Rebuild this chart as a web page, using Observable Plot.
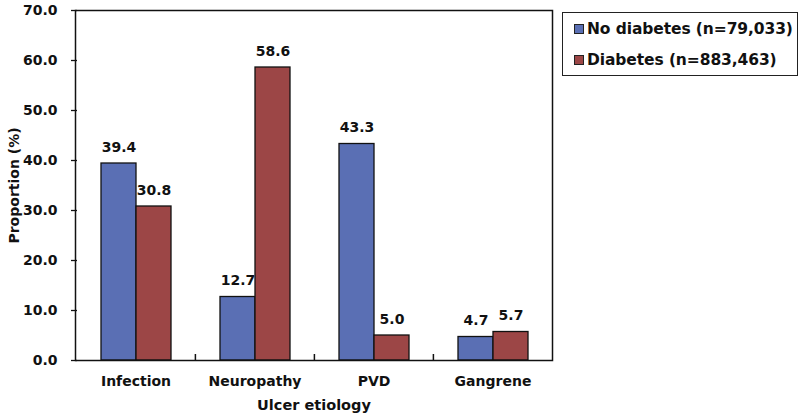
<!DOCTYPE html>
<html>
<head>
<meta charset="utf-8">
<script src="https://cdn.jsdelivr.net/npm/d3@7"></script>
<script src="https://cdn.jsdelivr.net/npm/@observablehq/plot@0.6"></script>
<style>
  body { margin: 0; background: #fff; }
  #wrap { position: relative; width: 800px; height: 418px; font-family: "DejaVu Sans", sans-serif; }
  #legend { position: absolute; left: 562px; top: 12px; width: 236px; height: 64px; border: 1.5px solid #222; box-sizing: border-box; font-weight: bold; font-size: 15.5px; color: #111; }
  .item { position: absolute; left: 11px; white-space: nowrap; letter-spacing: -0.1px; }
  .sw { display: inline-block; width: 8px; height: 8px; border: 1px solid #222; margin-right: 3px; vertical-align: 0px; }
</style>
</head>
<body>
<div id="wrap"></div>
<script>
const categories = ["Infection", "Neuropathy", "PVD", "Gangrene"];
const seriesNames = ["No diabetes (n=79,033)", "Diabetes (n=883,463)"];
const noDiabetes = [39.4, 12.7, 43.3, 4.7];
const diabetes = [30.8, 58.6, 5.0, 5.7];
const yTicks = [0, 10, 20, 30, 40, 50, 60, 70];
const colors = ["#5a6fb4", "#9c4646"];

const rowsA = categories.map((c, i) => ({cat: c, v: noDiabetes[i]}));
const rowsB = categories.map((c, i) => ({cat: c, v: diabetes[i]}));
const boundaries = categories.slice(1);

const font = "DejaVu Sans, sans-serif";
const plot = Plot.plot({
  width: 800,
  height: 418,
  marginLeft: 75,
  marginRight: 248,
  marginTop: 10,
  marginBottom: 58,
  style: {fontFamily: font, fontWeight: "bold", fontSize: "14px", color: "#111", background: "#fff"},
  x: {domain: categories, padding: 0, label: null},
  y: {domain: [0, 70], label: null},
  marks: [
    Plot.barY(rowsA, {x: "cat", y: "v", fill: colors[0], stroke: "#111", strokeWidth: 1.3, insetLeft: 25, insetRight: 59}),
    Plot.barY(rowsB, {x: "cat", y: "v", fill: colors[1], stroke: "#111", strokeWidth: 1.3, insetLeft: 60, insetRight: 24}),
    Plot.text(rowsA, {x: "cat", y: "v", text: d => d.v.toFixed(1), dx: -17, dy: -16, fontSize: 14, fontWeight: "bold", fill: "#111"}),
    Plot.text(rowsB, {x: "cat", y: "v", text: d => d.v.toFixed(1), dx: 18, dy: -16, fontSize: 14, fontWeight: "bold", fill: "#111"}),
    Plot.axisY({ticks: yTicks, tickFormat: d => d.toFixed(1), tickSize: -6, tickPadding: 20, dx: -4, fontSize: 14, strokeWidth: 1.3}),
    Plot.axisX({tickSize: 0, tickPadding: 16, fontSize: 14}),
    Plot.ruleX(boundaries, {x: d => d, dx: -59.6, y1: 0, y2: 1.2, stroke: "#111", strokeWidth: 1.5}),
    Plot.frame({stroke: "#111", strokeWidth: 1.5}),
    Plot.text(["Ulcer etiology"], {frameAnchor: "bottom", dy: 49, fontSize: 14.5, fontWeight: "bold", fill: "#111"}),
    Plot.text(["Proportion (%)"], {frameAnchor: "left", textAnchor: "middle", dx: -61, rotate: -90, fontSize: 14, fontWeight: "bold", fill: "#111"})
  ]
});
const wrap = document.getElementById("wrap");
wrap.appendChild(plot);
const lg = document.createElement("div");
lg.id = "legend";
seriesNames.forEach((n, i) => {
  const it = document.createElement("div");
  it.className = "item";
  it.style.top = (i === 0 ? 7 : 38) + "px";
  it.innerHTML = `<span class="sw" style="background:${colors[i]}"></span>${n}`;
  lg.appendChild(it);
});
wrap.appendChild(lg);
</script>
</body>
</html>
